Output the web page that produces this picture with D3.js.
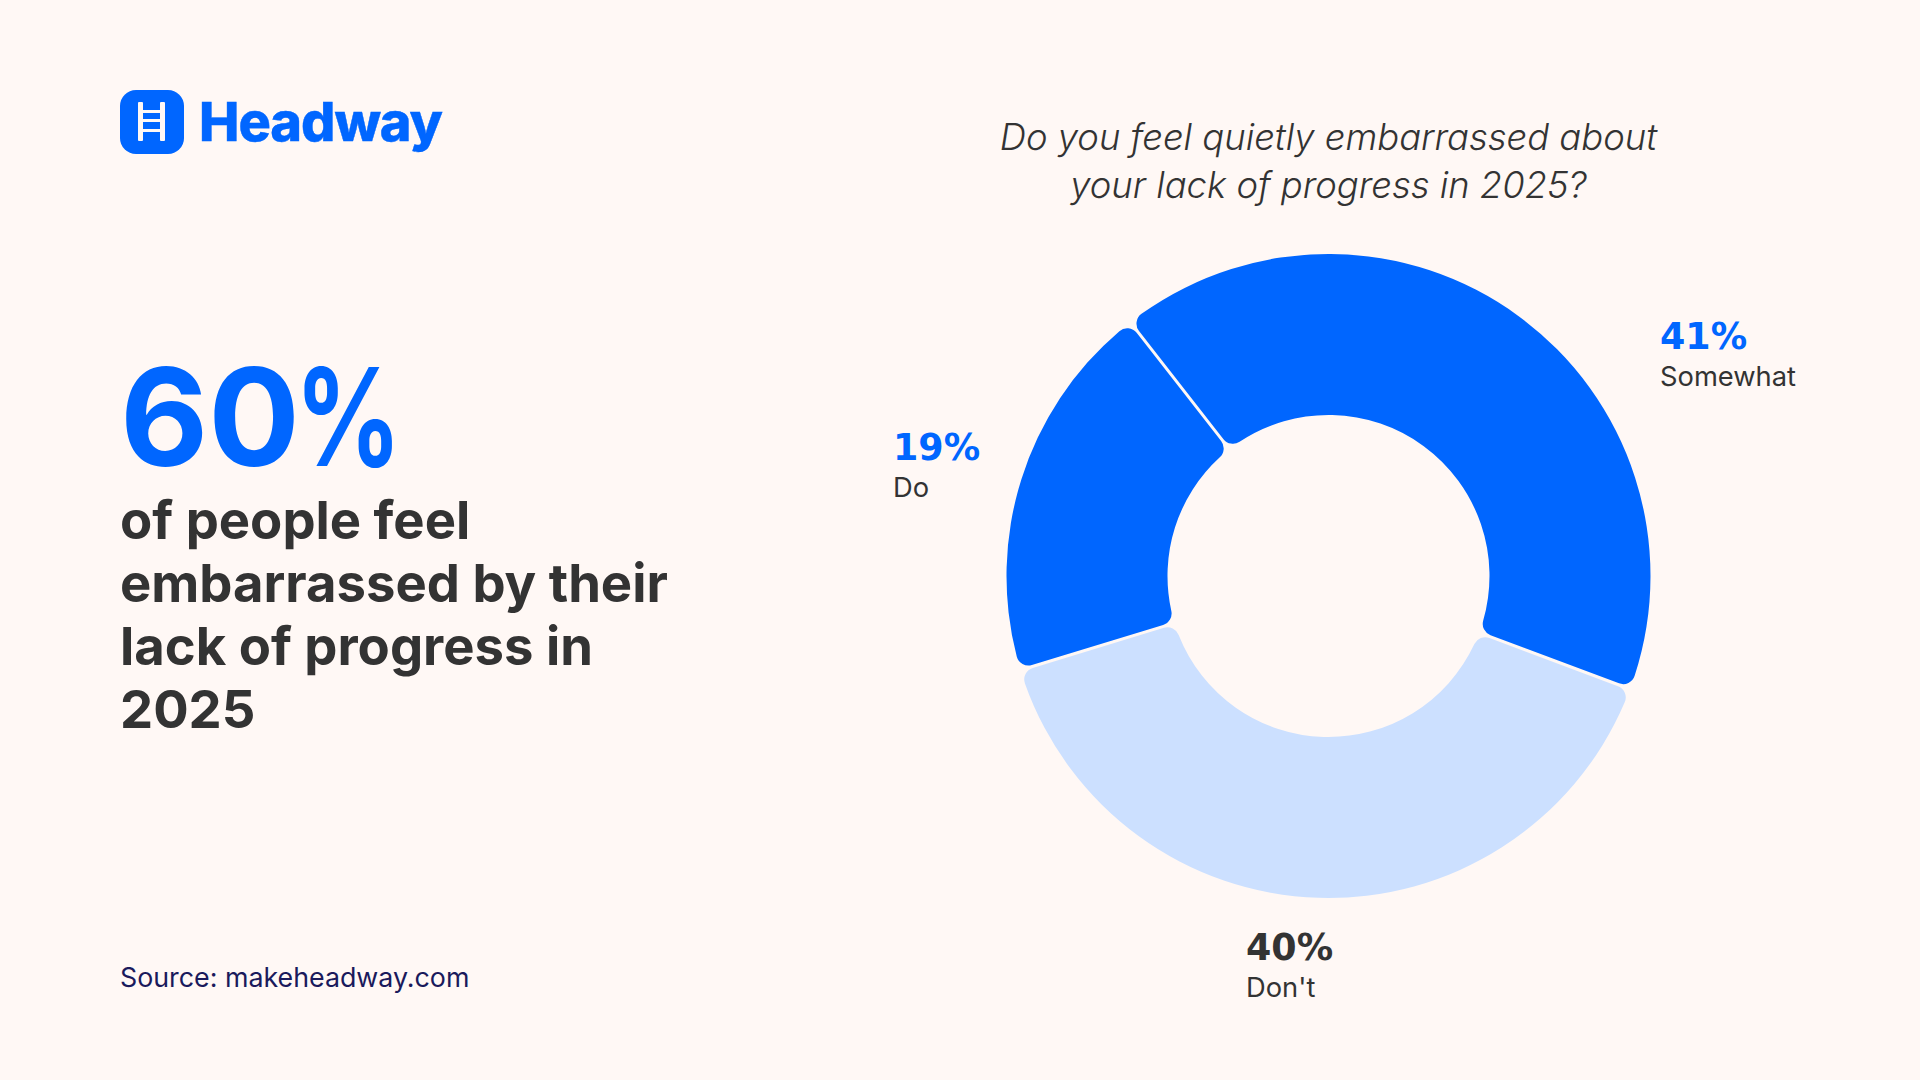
<!DOCTYPE html>
<html>
<head>
<meta charset="utf-8">
<script src="https://cdn.jsdelivr.net/npm/d3@7"></script>
<style>
    html, body { margin: 0; padding: 0; background: #fff8f5; }
    svg { display: block; }
    text { font-family: Inter, "Noto Sans", sans-serif; }
</style>
</head>
<body>
<div id="div"></div>
<script>
var categories = ['Somewhat', "Don't", 'Do'];
// shares, labels show them rounded
var values = [41.3, 39.6, 19.1];
var colors = ['#0066ff', '#cce0ff', '#0066ff'];
var pctColors = ['#0066ff', '#333333', '#0066ff'];
var headlineLines = ['of people feel', 'embarrassed by their', 'lack of progress in', '2025'];
var questionLines = ['Do you feel quietly embarrassed about', 'your lack of progress in 2025?'];

var width = 1920;
var height = 1080;
var cx = 1328.5;
var cy = 576;
var outer = 322;
var inner = 161;
var labelPos = { 'Somewhat': [1660, 349], "Don't": [1246, 959.5], 'Do': [893, 460] };

var svg = d3.select('#div').append('svg')
    .attr('width', width)
    .attr('height', height)
    .attr('viewBox', [0, 0, width, height]);

// logo
var logo = svg.append('g');
logo.append('rect')
    .attr('x', 120).attr('y', 90)
    .attr('width', 64).attr('height', 64)
    .attr('rx', 16)
    .attr('fill', '#0066ff');
[138, 160].forEach(function (x) {
    logo.append('rect').attr('x', x).attr('y', 102).attr('width', 5).attr('height', 39).attr('rx', 1).attr('fill', '#fff8f5');
});
[110, 119, 129].forEach(function (y) {
    logo.append('rect').attr('x', 140).attr('y', y).attr('width', 22).attr('height', 3).attr('fill', '#fff8f5');
});
logo.append('text')
    .attr('x', 199).attr('y', 141)
    .attr('font-size', 54)
    .attr('font-weight', 800)
    .attr('fill', '#0066ff')
    .attr('stroke', '#0066ff')
    .attr('stroke-width', 0.4)
    .attr('textLength', 244)
    .text('Headway');

// left column
svg.append('text')
    .attr('x', 120).attr('y', 466)
    .attr('font-size', 136)
    .attr('font-weight', 700)
    .attr('fill', '#0066ff')
    .text('60');

svg.append('text')
    .attr('transform', 'translate(295,466) scale(0.77,1)')
    .attr('font-size', 136)
    .attr('font-weight', 700)
    .attr('fill', '#0066ff')
    .text('%');

svg.append('g').selectAll('text')
    .data(headlineLines)
    .join('text')
    .attr('x', 120)
    .attr('y', (d, i) => 539 + i * 62.9)
    .attr('font-size', 52.6)
    .attr('font-weight', 700)
    .attr('fill', '#333333')
    .text(d => d);

svg.append('text')
    .attr('x', 120).attr('y', 987)
    .attr('font-size', 26.8)
    .attr('fill', '#1a1a5c')
    .text('Source: makeheadway.com');

// question
svg.append('g').selectAll('text')
    .data(questionLines)
    .join('text')
    .attr('x', cx)
    .attr('y', (d, i) => 150 + i * 48)
    .attr('text-anchor', 'middle')
    .attr('font-size', 36.4)
    .attr('font-style', 'italic')
    .attr('font-weight', 300)
    .attr('fill', '#333333')
    .text(d => d);

// donut
var pie = d3.pie()
    .sort(null)
    .startAngle(-38 * Math.PI / 180)
    .endAngle(322 * Math.PI / 180)
    .padAngle(3 / outer);

var arc = d3.arc()
    .innerRadius(inner)
    .outerRadius(outer)
    .padRadius(outer)
    .cornerRadius(12);

svg.append('g')
    .attr('transform', `translate(${cx},${cy})`)
    .selectAll('path')
    .data(pie(values))
    .join('path')
    .attr('fill', (d, i) => colors[i])
    .attr('d', arc);

// labels
var labels = svg.append('g').selectAll('g')
    .data(categories)
    .join('g')
    .attr('transform', d => `translate(${labelPos[d][0]},${labelPos[d][1]})`);

labels.append('text')
    .attr('font-size', 36.4)
    .attr('font-weight', 700)
    .attr('fill', (d, i) => pctColors[i])
    .style('font-family', '"DejaVu Sans"')
    .text((d, i) => Math.round(values[i]) + '%');

labels.append('text')
    .attr('y', 37)
    .attr('font-size', 27.3)
    .attr('fill', '#333333')
    .text(d => d);
</script>
</body>
</html>
